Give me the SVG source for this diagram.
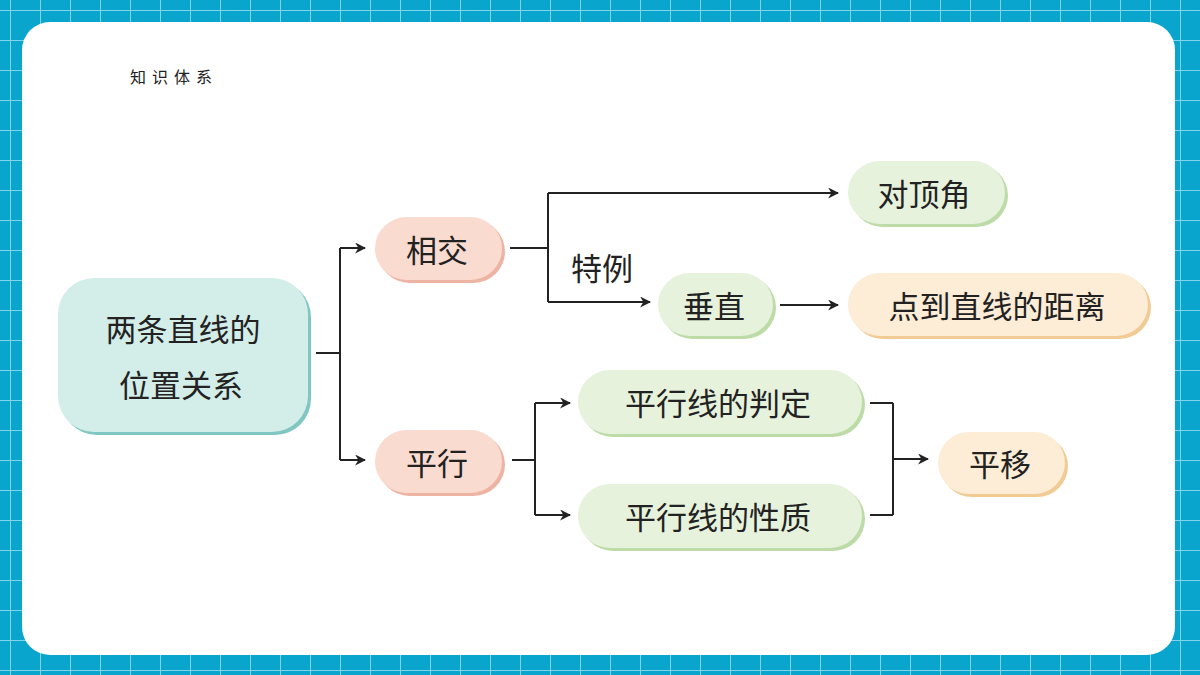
<svg xmlns="http://www.w3.org/2000/svg" width="1200" height="675" viewBox="0 0 1200 675">
<defs>
<pattern id="grid" width="30" height="30" patternUnits="userSpaceOnUse" x="10" y="10">
<rect width="30" height="30" fill="#0aa5cc"/>
<path d="M0 0H30M0 0V30" stroke="#7fd3ea" stroke-width="2"/>
</pattern>
<marker id="ar" viewBox="0 0 10 10" refX="9" refY="5" markerWidth="11" markerHeight="11" markerUnits="userSpaceOnUse" orient="auto">
<path d="M0 0L10 5L0 10L3 5Z" fill="#222"/>
</marker>
</defs>
<style>
text{font-family:"Noto Sans CJK SC","Noto Sans",sans-serif;fill:#222;}
.t{font-size:31px;text-anchor:middle;dominant-baseline:central;}
.ln{fill:none;stroke:#222;stroke-width:2;}
.pk{fill:#fadbd0}.pks{fill:#eeb4a3}
.gr{fill:#e6f2dc}.grs{fill:#bcdba6}
.or{fill:#fdecd6}.ors{fill:#f2cb94}
</style>
<rect width="1200" height="675" fill="url(#grid)"/>
<rect x="22" y="22" width="1153" height="633" rx="28" fill="#fff"/>
<text x="130" y="83" font-size="16" style="font-family:'Noto Sans CJK SC',serif" letter-spacing="6">知识体系</text>

<g id="connectors">
<path class="ln" d="M316 353H340M340 248V460"/>
<path class="ln" d="M340 248H365" marker-end="url(#ar)"/>
<path class="ln" d="M340 460H365" marker-end="url(#ar)"/>
<path class="ln" d="M510 248H548M548 193V302"/>
<path class="ln" d="M548 193H838" marker-end="url(#ar)"/>
<path class="ln" d="M548 302H650" marker-end="url(#ar)"/>
<text x="602" y="266" class="t" font-size="29">特例</text>
<path class="ln" d="M780 305H838" marker-end="url(#ar)"/>
<path class="ln" d="M512 460H535M535 403V515"/>
<path class="ln" d="M535 403H570" marker-end="url(#ar)"/>
<path class="ln" d="M535 515H570" marker-end="url(#ar)"/>
<path class="ln" d="M870 403H893M870 515H893M893 403V515"/>
<path class="ln" d="M893 459H928" marker-end="url(#ar)"/>
</g>

<g id="n-main">
<rect x="61" y="281" width="250" height="154" rx="36" fill="#80c7c2"/>
<rect x="58" y="278" width="250" height="154" rx="36" fill="#d3ede8"/>
<text class="t" x="183" y="327" font-size="32">两条直线的</text>
<text class="t" x="181" y="383" font-size="32">位置关系</text>
</g>
<g id="n-xj">
<rect x="378" y="220" width="127" height="63" rx="31.5" class="pks"/>
<rect x="375" y="217" width="127" height="63" rx="31.5" class="pk"/>
<text class="t" x="437" y="248">相交</text>
</g>
<g id="n-px">
<rect x="378" y="433" width="127" height="63" rx="31.5" class="pks"/>
<rect x="375" y="430" width="127" height="63" rx="31.5" class="pk"/>
<text class="t" x="437" y="461">平行</text>
</g>
<g id="n-ddj">
<rect x="851" y="164" width="157" height="63" rx="31.5" class="grs"/>
<rect x="848" y="161" width="157" height="63" rx="31.5" class="gr"/>
<text class="t" x="924" y="192">对顶角</text>
</g>
<g id="n-cz">
<rect x="661" y="276" width="115" height="63" rx="31.5" class="grs"/>
<rect x="658" y="273" width="115" height="63" rx="31.5" class="gr"/>
<text class="t" x="714" y="304">垂直</text>
</g>
<g id="n-jl">
<rect x="851" y="276" width="300" height="63" rx="31.5" class="ors"/>
<rect x="848" y="273" width="300" height="63" rx="31.5" class="or"/>
<text class="t" x="997" y="304">点到直线的距离</text>
</g>
<g id="n-pd">
<rect x="581" y="373" width="284" height="64" rx="32" class="grs"/>
<rect x="578" y="370" width="284" height="64" rx="32" class="gr"/>
<text class="t" x="718" y="401">平行线的判定</text>
</g>
<g id="n-xz">
<rect x="581" y="487" width="284" height="64" rx="32" class="grs"/>
<rect x="578" y="484" width="284" height="64" rx="32" class="gr"/>
<text class="t" x="718" y="515">平行线的性质</text>
</g>
<g id="n-py">
<rect x="941" y="435" width="127" height="62" rx="31" class="ors"/>
<rect x="938" y="432" width="127" height="62" rx="31" class="or"/>
<text class="t" x="1000" y="462">平移</text>
</g>
</svg>
